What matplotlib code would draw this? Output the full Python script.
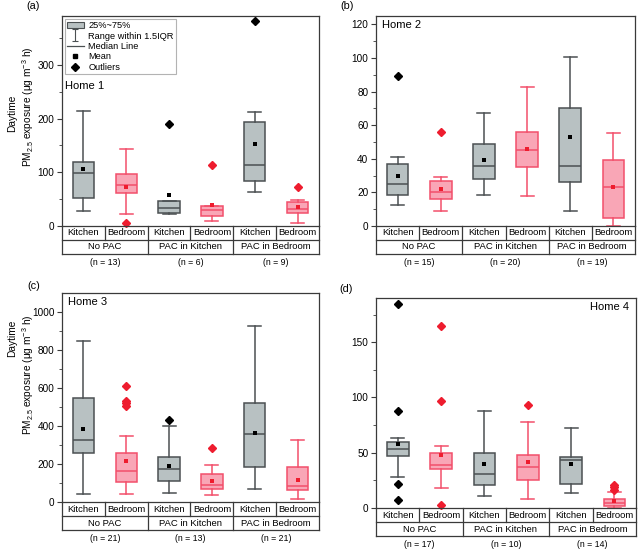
import matplotlib
matplotlib.use("Agg")
from matplotlib import pyplot as plt
from matplotlib.lines import Line2D
from matplotlib.patches import Patch
from matplotlib.path import Path
from matplotlib.ticker import MultipleLocator
import matplotlib.transforms as mtransforms

plt.rcParams["font.family"] = ["Liberation Sans", "DejaVu Sans"]
plt.rcParams["mathtext.default"] = "regular"

rooms = ["Kitchen", "Bedroom"]
groups = ["No PAC", "PAC in Kitchen", "PAC in Bedroom"]

# box order: NoPAC-K, NoPAC-B, PACinK-K, PACinK-B, PACinB-K, PACinB-B
h1_low = [28, 22, 23, 9, 63, 6]
h1_q1 = [53, 62, 25, 19, 83, 25]
h1_med = [99, 76, 33, 29, 113, 31]
h1_q3 = [119, 96, 47, 38, 193, 44]
h1_high = [214, 143, 47, 38, 213, 48]
h1_mean = [106, 73, 58, 39, 152, 35]
h1_out = [[], [6], [190], [114], [381], [73]]
h1_n = [13, 6, 9]

h2_low = [12.7, 9, 18.5, 18, 9, 0.2]
h2_q1 = [18.5, 16, 28, 35, 26, 5]
h2_med = [25, 20, 36, 45.4, 35.5, 23]
h2_q3 = [37, 27, 49, 56, 70, 39]
h2_high = [41, 29, 67, 83, 100.4, 55.6]
h2_mean = [30, 22, 39, 46, 53, 23]
h2_out = [[89], [56], [], [], [], []]
h2_n = [15, 20, 19]

h3_low = [40, 40, 47, 35, 66, 17]
h3_q1 = [260, 105, 108, 66, 185, 65]
h3_med = [325, 162, 171, 91, 356, 82]
h3_q3 = [545, 257, 234, 147, 518, 183]
h3_high = [848, 347, 400, 194, 923, 325]
h3_mean = [386, 218, 188, 112, 363, 117]
h3_out = [[], [610, 532, 520, 506], [429], [283], [], []]
h3_n = [21, 13, 21]

h4_low = [28, 18.4, 10.6, 8.5, 13.6, 0]
h4_q1 = [47, 35.6, 21, 25, 21.4, 2]
h4_med = [53, 38.6, 30.5, 37.4, 43, 4.5]
h4_q3 = [60, 50, 50, 48, 46, 8]
h4_high = [63, 56, 87.5, 78, 72, 14.5]
h4_mean = [58, 48, 40, 42, 39.5, 6.3]
h4_out = [[185, 87.5, 22, 7], [165, 97, 2.4], [], [93], [], [21, 19, 16.6]]
h4_n = [17, 10, 14]

GRAY_FACE = "#b8c1c2"
GRAY_EDGE = "#4b5052"
PINK_FACE = "#f9a6b6"
PINK_EDGE = "#f24f6b"
RED = "#ee1c2e"
FRAME = "#3a3a3a"

W, H = 638, 551
fig = plt.figure(figsize=(W / 100, H / 100), dpi=100)


def px_axes(left, top, right, bottom):
    return fig.add_axes([left / W, 1 - bottom / H, (right - left) / W, (bottom - top) / H])


def make_stats(low, q1, med, q3, high, mean, out, idx):
    stats = []
    for i in idx:
        stats.append(dict(whislo=low[i], q1=q1[i], med=med[i], q3=q3[i],
                          whishi=high[i], mean=mean[i], fliers=out[i]))
    return stats


def draw_panel(ax, low, q1, med, q3, high, mean, out, n, ylim, major, minor):
    kit = [0, 2, 4]
    bed = [1, 3, 5]
    for idx, face, edge, mcol in [(kit, GRAY_FACE, GRAY_EDGE, "black"),
                                   (bed, PINK_FACE, PINK_EDGE, RED)]:
        res = ax.bxp(make_stats(low, q1, med, q3, high, mean, out, idx),
                     positions=idx, widths=0.5, capwidths=0.3,
                     patch_artist=True, showmeans=True,
                     boxprops=dict(facecolor=face, edgecolor=edge, linewidth=1.1),
                     medianprops=dict(color=edge, linewidth=1.1),
                     whiskerprops=dict(color=edge, linewidth=1.1),
                     capprops=dict(color=edge, linewidth=1.1),
                     meanprops=dict(marker="s", markersize=2.4, markerfacecolor=mcol,
                                    markeredgewidth=0),
                     flierprops=dict(marker="D", markersize=4.2, markerfacecolor=mcol,
                                     markeredgecolor=mcol))
        for f in res["fliers"]:
            f.set_clip_on(False)
        for c in res["caps"] + res["whiskers"]:
            c.set_clip_on(False)

    ax.set_xlim(-0.5, 5.5)
    ax.set_ylim(*ylim)
    ax.yaxis.set_major_locator(MultipleLocator(major))
    ax.yaxis.set_minor_locator(MultipleLocator(minor))
    ax.tick_params(axis="y", which="major", direction="out", length=3.5, width=0.8,
                   color=FRAME, labelsize=7.2, pad=2)
    ax.tick_params(axis="y", which="minor", direction="out", length=2, width=0.6, color=FRAME)
    ax.tick_params(axis="x", bottom=False, labelbottom=False)
    for s in ax.spines.values():
        s.set_color(FRAME)
        s.set_linewidth(0.9)

    # category table below the axes
    r = 14 / (ax.get_position().height * H)
    tr = mtransforms.blended_transform_factory(ax.transData, ax.transAxes)
    kw = dict(color=FRAME, lw=0.9, transform=tr, clip_on=False)
    ax.plot([-0.5, 5.5], [-r, -r], **kw)
    ax.plot([-0.5, 5.5], [-2 * r, -2 * r], **kw)
    ax.plot([-0.5, -0.5], [0, -2 * r], **kw)
    ax.plot([5.5, 5.5], [0, -2 * r], **kw)
    for x in [0.5, 2.5, 4.5]:
        ax.plot([x, x], [0, -r], **kw)
    for x in [1.5, 3.5]:
        ax.plot([x, x], [0, -2 * r], **kw)
    for i in range(6):
        ax.text(i, -r / 2, rooms[i % 2], transform=tr, ha="center", va="center", fontsize=6.8)
    for g in range(3):
        ax.text(2 * g + 0.5, -1.5 * r, groups[g], transform=tr, ha="center",
                va="center", fontsize=6.8)
        ax.text(2 * g + 0.5, -2.6 * r, f"(n = {n[g]})", transform=tr, ha="center",
                va="center", fontsize=6.3)


ax_a = px_axes(62, 16, 319, 226)
ax_b = px_axes(376, 16, 635, 226)
ax_c = px_axes(62, 293, 319, 502)
ax_d = px_axes(376, 298, 636, 508)

draw_panel(ax_a, h1_low, h1_q1, h1_med, h1_q3, h1_high, h1_mean, h1_out, h1_n, (0, 391), 100, 50)
draw_panel(ax_b, h2_low, h2_q1, h2_med, h2_q3, h2_high, h2_mean, h2_out, h2_n, (0, 125), 20, 10)
draw_panel(ax_c, h3_low, h3_q1, h3_med, h3_q3, h3_high, h3_mean, h3_out, h3_n, (0, 1098), 200, 100)
draw_panel(ax_d, h4_low, h4_q1, h4_med, h4_q3, h4_high, h4_mean, h4_out, h4_n, (0, 190), 50, 25)

ax_a.text(0.01, 0.665, "Home 1", transform=ax_a.transAxes, fontsize=8, va="center")
ax_b.text(0.025, 0.955, "Home 2", transform=ax_b.transAxes, fontsize=8, va="center")
ax_c.text(0.025, 0.955, "Home 3", transform=ax_c.transAxes, fontsize=8, va="center")
ax_d.text(0.975, 0.955, "Home 4", transform=ax_d.transAxes, fontsize=8, va="center", ha="right")

# legend in panel (a)
ibar = Path([(0, -1), (0, 1), (-0.5, 1), (0.5, 1), (-0.5, -1), (0.5, -1)],
            [Path.MOVETO, Path.LINETO, Path.MOVETO, Path.LINETO, Path.MOVETO, Path.LINETO])
handles = [
    Patch(facecolor=GRAY_FACE, edgecolor=GRAY_EDGE, linewidth=0.8),
    Line2D([], [], marker=ibar, markersize=8, color=GRAY_EDGE, linestyle="none",
           markerfacecolor="none", markeredgewidth=0.8),
    Line2D([], [], color=GRAY_EDGE, lw=0.9),
    Line2D([], [], marker="s", markersize=2.4, color="black", linestyle="none"),
    Line2D([], [], marker="D", markersize=3.8, color="black", linestyle="none"),
]
labels = ["25%~75%", "Range within 1.5IQR", "Median Line", "Mean", "Outliers"]
leg = ax_a.legend(handles, labels, loc="upper left", bbox_to_anchor=(0.003, 0.995),
                  fontsize=6.7, frameon=True, fancybox=False, borderpad=0.25,
                  labelspacing=0.15, handlelength=1.8, handletextpad=0.5,
                  borderaxespad=0.2)
leg.get_frame().set_edgecolor("#a0a0a0")
leg.get_frame().set_linewidth(0.8)

# y labels for left panels (pixel centres)
for day_y, pm_y in [(113, 107), (338, 375)]:
    fig.text(12 / W, 1 - day_y / H, "Daytime", rotation=90, ha="center", va="center",
             fontsize=7.3)
    fig.text(28 / W, 1 - pm_y / H, "PM$_{2.5}$ exposure (μg m$^{-3}$ h)", rotation=90,
             ha="center", va="center", fontsize=7.3)

# panel letters
fig.text(26 / W, 1 - 6 / H, "(a)", fontsize=7.8, va="center")
fig.text(340 / W, 1 - 6 / H, "(b)", fontsize=7.8, va="center")
fig.text(27 / W, 1 - 286 / H, "(c)", fontsize=7.8, va="center")
fig.text(339 / W, 1 - 289 / H, "(d)", fontsize=7.8, va="center")

fig.savefig("out.png", dpi=100)
